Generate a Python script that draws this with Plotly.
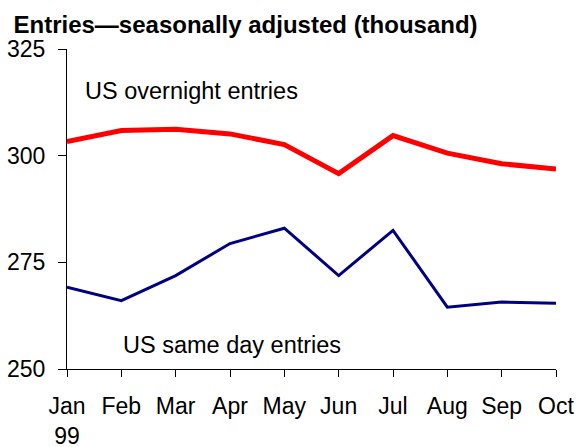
import plotly.graph_objects as go

months = ["Jan<br>99", "Feb", "Mar", "Apr", "May", "Jun", "Jul", "Aug", "Sep", "Oct"]
overnight = [303.3, 305.9, 306.2, 305.1, 302.6, 295.8, 304.7, 300.6, 298.1, 296.9]
same_day = [269.2, 266.0, 271.9, 279.4, 283.0, 271.9, 282.5, 264.5, 265.7, 265.4]
y_ticks = [250, 275, 300, 325]

x = list(range(len(months)))
FONT = "Liberation Sans, Arial, sans-serif"
FS = 23

fig = go.Figure()
fig.add_trace(go.Scatter(x=x, y=overnight, mode="lines",
                         line=dict(color="#ff0000", width=5), name="US overnight entries"))
fig.add_trace(go.Scatter(x=x, y=same_day, mode="lines",
                         line=dict(color="#000080", width=3), name="US same day entries"))

fig.add_annotation(x=0.29, y=315.2, xref="x", yref="y", text="US overnight entries",
                   showarrow=False, xanchor="left", yanchor="middle",
                   font=dict(family=FONT, size=23.5, color="black"))
fig.add_annotation(x=1.0, y=255.6, xref="x", yref="y", text="US same day entries",
                   showarrow=False, xanchor="left", yanchor="middle",
                   font=dict(family=FONT, size=23.5, color="black"))

fig.update_layout(
    width=579, height=447,
    margin=dict(l=67, r=23, t=49, b=78, autoexpand=False),
    paper_bgcolor="white", plot_bgcolor="white",
    showlegend=False,
    title=dict(text="<b>Entries—seasonally adjusted (thousand)</b>",
               x=13.5/579, xanchor="left", y=1 - 24.5/447, yanchor="middle",
               font=dict(family=FONT, size=24, color="black")),
    font=dict(family=FONT, size=FS, color="black"),
    xaxis=dict(range=[0, 9], tickmode="array", tickvals=x, ticktext=months,
               showgrid=False, zeroline=False, showline=True, linecolor="black", linewidth=1,
               ticks="outside", ticklen=7, tickcolor="black", tickwidth=1,
               ticklabelstandoff=9, tickangle=0),
    yaxis=dict(range=[250, 325], tickmode="array", tickvals=y_ticks,
               showgrid=False, zeroline=False, showline=True, linecolor="black", linewidth=1,
               ticks="outside", ticklen=8, tickcolor="black", tickwidth=1,
               ticklabelstandoff=8),
)

# remove the browser's default 8px body margin so the figure fills the window exactly
fig.write_html("out.html",
               config=dict(displayModeBar=False),
               post_script="document.body.style.margin='0';document.body.style.overflow='hidden';")
